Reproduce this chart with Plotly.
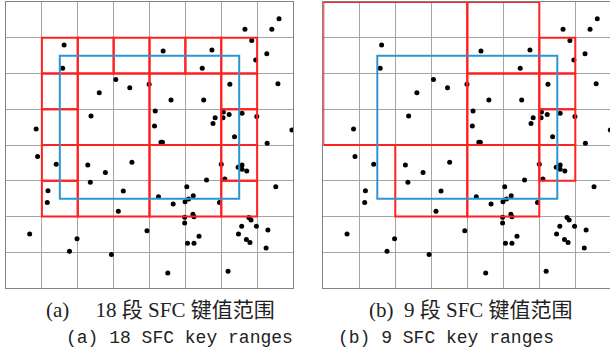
import plotly.graph_objects as go

W, H = 610, 351

# Point data (grid units, x from left, y from top of an 8x8 grid)
px_ = [7.61, 6.66, 7.41, 1.62, 6.85, 4.38, 5.74, 7.27, 6.96, 1.58, 5.47, 3.06, 3.45, 3.99,
       6.24, 7.58, 2.60, 4.60, 5.51, 4.16, 6.06, 6.58, 2.37, 5.83, 6.05, 6.22, 6.99, 0.84,
       4.14, 5.77, 7.97, 6.37, 4.32, 4.36, 7.28, 0.88, 1.40, 2.28, 2.77, 3.51, 6.00, 6.47,
       6.58, 6.58, 6.71, 2.35, 5.59, 6.10, 1.17, 3.27, 5.04, 5.22, 7.52, 1.15, 4.25, 4.66,
       4.99, 5.09, 5.95, 3.13, 5.21, 5.24, 4.98, 4.98, 6.77, 6.83, 6.57, 6.98, 7.30, 0.66,
       3.93, 1.98, 5.38, 6.48, 6.70, 6.80, 5.06, 5.24, 1.77, 2.94, 7.25, 4.51, 6.19]
py_ = [0.47, 0.76, 0.76, 1.20, 1.08, 1.37, 1.34, 1.45, 1.62, 1.85, 1.85, 2.17, 2.40, 2.30,
       2.30, 2.29, 2.54, 2.74, 2.74, 3.05, 3.08, 3.11, 3.19, 3.24, 3.24, 3.15, 3.20, 3.55,
       3.47, 3.40, 3.58, 3.77, 3.92, 3.92, 3.95, 4.32, 4.54, 4.56, 4.77, 4.48, 4.54, 4.62,
       4.56, 4.68, 4.73, 5.04, 4.98, 4.95, 5.28, 5.29, 5.17, 5.42, 5.17, 5.61, 5.45, 5.65,
       5.59, 5.51, 5.61, 5.85, 5.94, 6.01, 6.02, 6.18, 6.03, 6.10, 6.27, 6.27, 6.38, 6.49,
       6.40, 6.62, 6.55, 6.49, 6.64, 6.73, 6.75, 6.75, 6.97, 7.06, 6.88, 7.58, 7.53]

# Query window (x0, x1, y0, y1)
query_box = [1.5, 6.5, 1.5, 5.5]

# SFC key ranges as cell blocks (x0, x1, y0, y1)
ranges_18 = [
    [1, 2, 1, 2], [1, 2, 2, 3], [1, 2, 3, 4], [1, 2, 4, 5], [1, 2, 5, 6],
    [2, 3, 1, 2], [3, 4, 1, 2], [2, 4, 2, 4], [2, 4, 4, 6],
    [4, 5, 1, 2], [5, 6, 1, 2], [4, 6, 2, 4], [4, 6, 4, 6],
    [6, 7, 1, 2], [6, 7, 2, 3], [6, 7, 3, 4], [6, 7, 4, 5], [6, 7, 5, 6],
]
ranges_9 = [
    [0, 4, 0, 4], [4, 6, 0, 2], [4, 6, 2, 4],
    [6, 7, 1, 2], [6, 7, 2, 3], [6, 7, 3, 4], [6, 7, 4, 5],
    [2, 4, 4, 6], [4, 6, 4, 6],
]

cap_cn = ["(a)\u3000 18 段 SFC 键值范围", "(b)  9 段 SFC 键值范围"]
cap_en = ["(a) 18 SFC key ranges", "(b) 9 SFC key ranges"]

RED = "rgb(255,32,32)"
BLUE = "rgb(45,150,210)"
GRID = "rgb(165,165,165)"

fig = go.Figure()

# panel geometry in pixels
top_px, bot_px = 2, 288
left_dom = [6 / W, 293 / W]
right_dom = [323.3 / W, 1.0]
right_range = (W - 323.3) / 36.0
ydom = [1 - bot_px / H, 1 - top_px / H]

for i, (xa, ya) in enumerate([("x", "y"), ("x2", "y2")]):
    fig.add_trace(go.Scatter(x=px_, y=py_, mode="markers", xaxis=xa, yaxis=ya,
                             marker=dict(color="black", size=5), showlegend=False,
                             hoverinfo="skip", cliponaxis=True))

def add_rects(rects, xref, yref, color):
    for r in rects:
        fig.add_shape(type="rect", x0=r[0], x1=r[1], y0=r[2], y1=r[3], xref=xref, yref=yref,
                      line=dict(color=color, width=2), fillcolor="rgba(0,0,0,0)", layer="above")

add_rects(ranges_18, "x", "y", RED)
add_rects([query_box], "x", "y", BLUE)
add_rects(ranges_9, "x2", "y2", RED)
add_rects([query_box], "x2", "y2", BLUE)

axis_common = dict(showgrid=True, gridcolor=GRID, gridwidth=1, dtick=1, tick0=0,
                   showticklabels=False, ticks="", zeroline=False,
                   showline=True, linecolor="rgb(130,130,130)", linewidth=1, mirror=True,
                   fixedrange=True)

fig.update_layout(
    width=W, height=H, margin=dict(l=0, r=0, t=0, b=0),
    paper_bgcolor="white", plot_bgcolor="white",
    xaxis=dict(domain=left_dom, range=[0, 8], **axis_common),
    yaxis=dict(domain=ydom, range=[8, 0], **axis_common),
    xaxis2=dict(domain=right_dom, range=[0, right_range], anchor="y2", **axis_common),
    yaxis2=dict(domain=ydom, range=[8, 0], anchor="x2", **axis_common),
)

cn_font = dict(family="Liberation Serif, Noto Sans CJK SC", size=21, color="#222")
en_font = dict(family="Liberation Mono, DejaVu Sans Mono", size=18, color="#222")
cn_x = [44, 367]
en_x = [64, 336]
for k in range(2):
    fig.add_annotation(text=cap_cn[k], x=cn_x[k] / W, y=1 - 310 / H, xref="paper", yref="paper",
                       showarrow=False, xanchor="left", yanchor="middle", font=cn_font)
    fig.add_annotation(text=cap_en[k], x=en_x[k] / W, y=1 - 338 / H, xref="paper", yref="paper",
                       showarrow=False, xanchor="left", yanchor="middle", font=en_font)

fig.write_html("out.html", config={"displayModeBar": False},
               post_script="document.body.style.margin='0';document.body.style.overflow='hidden';")
